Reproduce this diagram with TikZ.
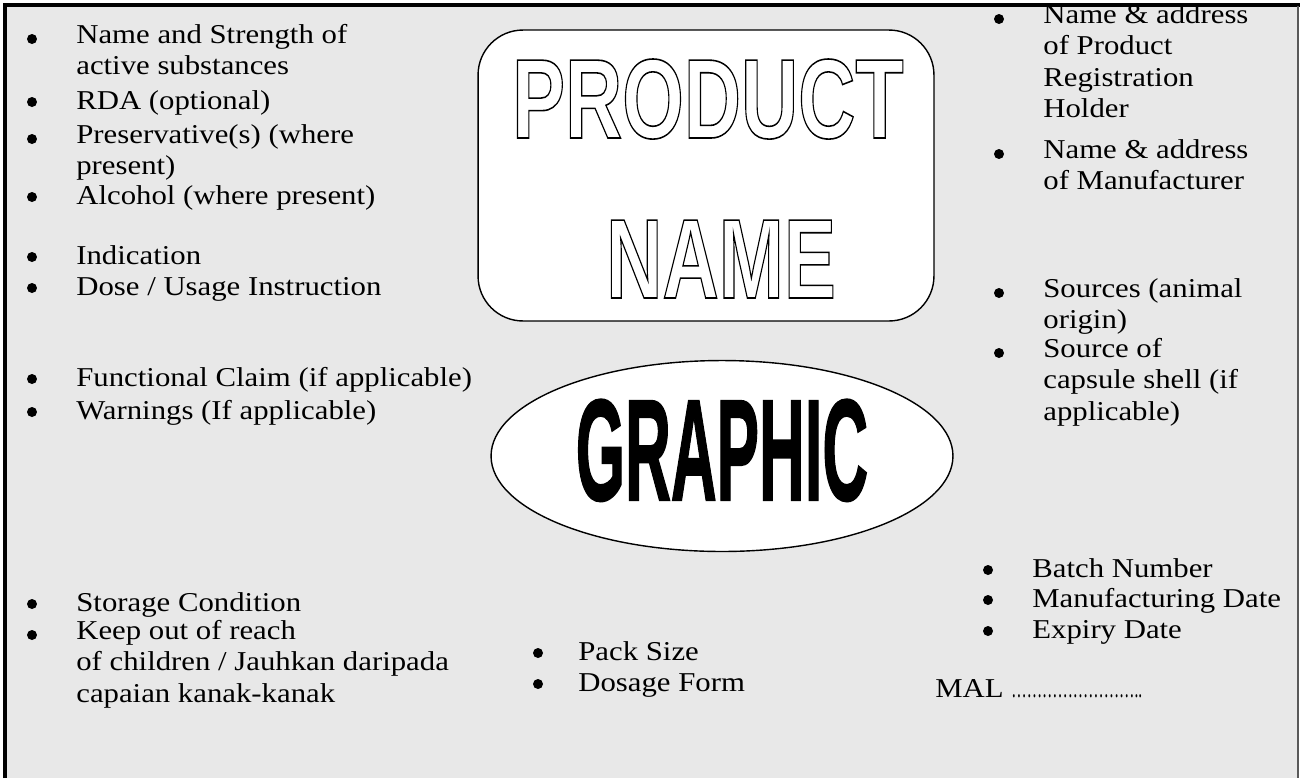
\documentclass[tikz,border=0pt]{standalone}
\usepackage{fontspec}
\usepackage{graphicx}
\usetikzlibrary{shapes.geometric}
\setmainfont{Liberation Serif}[FakeStretch=1.13]
\newfontfamily\bigfont{Liberation Sans}
\newfontfamily\heavyfont{Liberation Sans Bold}[FakeBold=1.5]
\definecolor{panel-gray}{gray}{0.91}
\definecolor{edge-gray}{gray}{0.35}
\tikzstyle{itemtext}=[anchor=north west,align=left,inner sep=0pt,font=\fontsize{15.5}{17.9}\selectfont,execute at begin node=\strut]
\tikzstyle{dot}=[circle,fill=black,inner sep=0pt,minimum size=0.2cm]
\tikzstyle{bigword}=[anchor=base,inner sep=0pt,font=\bigfont\bfseries\fontsize{64.4}{64.4}\selectfont]
\tikzstyle{namebox}=[draw,fill=white,line width=0.8pt,rounded corners=0.9cm,minimum width=9.12cm,minimum height=5.82cm,inner sep=0pt]
\tikzstyle{graphicoval}=[ellipse,draw,fill=white,line width=0.8pt,minimum width=9.24cm,minimum height=3.82cm,inner sep=0pt]
% stroke-only letters (text render mode 1)
\newcommand{\hollow}[1]{\special{pdf:literal 1 Tr 0.9 w}#1\special{pdf:literal 0 Tr}}
% strut top sits 0.7*17.9pt = 12.53pt = 22px above the first baseline
\newcommand{\newitem}[5][44]{% [bullet gap] name, x, first baseline y, text
  \node[itemtext] (#2) at (#3,#4-22) {#5};
  \node[dot] (#2-dot) at (#3-#1,#4-7) {};
}
\begin{document}
\begin{tikzpicture}[x=0.02cm,y=-0.02cm]
\useasboundingbox (0,0) rectangle (1300,778);
% label panel
\fill[panel-gray] (5,5) rectangle (1298,778);
% product name
\node[namebox] (namebox) at (706,175.5) {};
\node[bigword] (product) at (708,138) {\scalebox{0.70}[1]{\hollow{PRODUCT}}};
\node[bigword] (name) at (721,298) {\scalebox{0.69}[1]{\hollow{NAME}}};
% graphic
\node[graphicoval] (graphic) at (722,456) {};
\node[bigword,font=\heavyfont\fontsize{82}{82}\selectfont] (graphictext) at (722,500) {\scalebox{0.44}[1]{GRAPHIC}};
\begin{scope}
\clip (5,5) rectangle (1298,778);
% left column
\newitem{strength}{76}{46}{Name and Strength of\\active substances}
\newitem{rda}{76}{109}{RDA (optional)}
\newitem{preserv}{76}{146}{Preservative(s) (where\\present)}
\newitem{alcohol}{76}{204}{Alcohol (where present)}
\newitem{indic}{76}{264}{Indication}
\newitem{dose}{76}{295}{Dose / Usage Instruction}
\newitem{claim}{76}{386}{Functional Claim (if applicable)}
\newitem{warn}{76}{419}{Warnings (If applicable)}
\newitem{storage}{76}{611}{Storage Condition}
\newitem{reach}{76}{642}{Keep out of reach\\of children / Jauhkan daripada\\capaian kanak-kanak}
% middle column
\newitem[40]{pack}{578}{660}{Pack Size}
\newitem[40]{form}{578}{691}{Dosage Form}
% right column
\newitem{holder}{1043}{26}{Name \& address\\of Product\\Registration\\Holder}
\newitem{maker}{1043}{161}{Name \& address\\of Manufacturer}
\newitem{animal}{1043}{300}{Sources (animal\\origin)}
\newitem{capsule}{1043}{360}{Source of\\capsule shell (if\\applicable)}
\newitem{batch}{1032}{577}{Batch Number}
\newitem{mfg}{1032}{607}{Manufacturing Date}
\newitem{expiry}{1032}{638}{Expiry Date}
\node[itemtext] (mal) at (935,697-22) {MAL \scalebox{0.5}[1]{……………………..}};
\end{scope}
% frame
\draw[line width=2.3pt] (5,778) -- (5,5) -- (1300,5);
\draw[edge-gray,line width=1.2pt] (1298,6) -- (1298,778);
\end{tikzpicture}
\end{document}
